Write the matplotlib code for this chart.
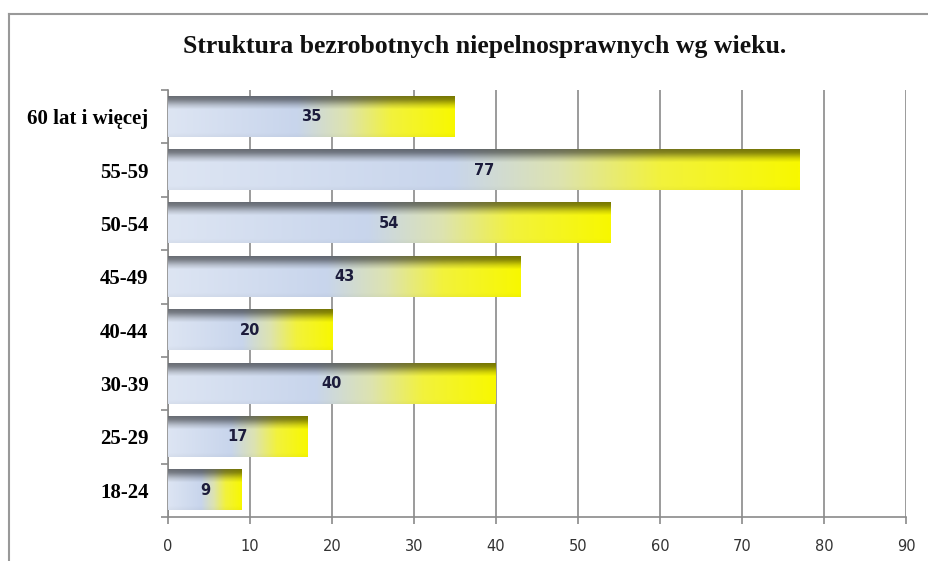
import numpy as np
import matplotlib
matplotlib.use('Agg')
import matplotlib.pyplot as plt
from matplotlib.lines import Line2D
from matplotlib.colors import to_rgb

# data (bottom to top)
categories = ['18-24', '25-29', '30-39', '40-44', '45-49', '50-54', '55-59', '60 lat i więcej']
values = [9, 17, 40, 20, 43, 54, 77, 35]
xticks = [0, 10, 20, 30, 40, 50, 60, 70, 80, 90]
title = 'Struktura bezrobotnych niepelnosprawnych wg wieku.'

# horizontal colour stops along each bar (relative position)
h_stops = [0.0, 0.45, 0.62, 0.78, 1.0]
h_cols = [to_rgb(c) for c in ['#dde5f3', '#c8d5ec', '#dde3b0', '#f2f23c', '#f8f800']]
# vertical shading (0 = top of bar)
v_stops = [0.0, 0.08, 0.22, 0.32, 0.9, 1.0]
v_fac = [0.48, 0.55, 0.85, 1.0, 1.0, 0.97]

W, H = 929, 561
fig = plt.figure(figsize=(W / 100, H / 100), dpi=100, facecolor='white')
ax = fig.add_axes([168 / W, 1 - 517 / H, (906 - 168) / W, (517 - 90) / H])

ypos = np.arange(len(categories))
bars = ax.barh(ypos, values, height=0.75, color='none', zorder=2)

def bar_image(nx=200, ny=60):
    u = np.linspace(0, 1, nx)
    t = np.linspace(0, 1, ny)
    row = np.stack([np.interp(u, h_stops, [c[i] for c in h_cols]) for i in range(3)], axis=-1)
    fac = np.interp(t, v_stops, v_fac)
    return np.clip(row[None, :, :] * fac[:, None, None], 0, 1)

img = bar_image()
for b, v in zip(bars, values):
    x0, y0, w, h = b.get_x(), b.get_y(), b.get_width(), b.get_height()
    ax.imshow(img, extent=(x0, x0 + w, y0, y0 + h), aspect='auto',
              interpolation='bilinear', zorder=3)
    ax.text(x0 + w / 2, y0 + h / 2, str(v), ha='center', va='center',
            fontsize=10.5, fontweight='bold', color='#1c1c3c',
            family='DejaVu Sans', zorder=4)

ax.set_xlim(0, 90)
ax.set_ylim(-0.5, len(categories) - 0.5)
ax.set_xticks(xticks)
ax.set_yticks(ypos)
ax.set_yticklabels(categories, family='Liberation Serif', fontweight='bold', fontsize=15)
ax.set_yticks(np.arange(-0.5, len(categories)), minor=True)
ax.tick_params(axis='y', which='major', length=0, pad=14)
ax.tick_params(axis='y', which='minor', length=5, color='#8a8a8a', width=1.2)
ax.tick_params(axis='x', length=5, color='#8a8a8a', width=1.2, pad=11,
               labelsize=10.5, labelcolor='#333333')
ax.xaxis.grid(True, color='#8a8a8a', lw=1.2)
ax.set_axisbelow(True)
for s in ['top', 'right']:
    ax.spines[s].set_visible(False)
for s in ['left', 'bottom']:
    ax.spines[s].set_color('#8a8a8a')
    ax.spines[s].set_linewidth(1.2)

fig.text(485 / W, 1 - 47 / H, title, ha='center', va='center',
         family='Liberation Serif', fontweight='bold', fontsize=18.5, color='#111111')

# chart frame
fig.add_artist(Line2D([9 / W, 9 / W], [0, 1 - 14 / H], color='#999999', lw=1.5))
fig.add_artist(Line2D([9 / W, 1], [1 - 14 / H, 1 - 14 / H], color='#999999', lw=1.5))

fig.savefig('out.png', dpi=100, facecolor='white')
